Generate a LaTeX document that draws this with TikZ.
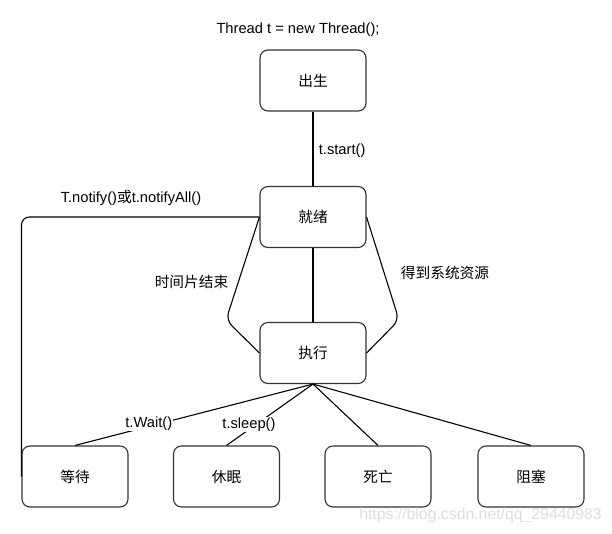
\documentclass[tikz,border=0pt]{standalone}
\usepackage{fontspec}
\setmainfont{Liberation Sans}
\newfontfamily\cjk{Noto Sans CJK SC}

\begin{document}
\begin{tikzpicture}[x=1pt, y=-1pt, line width=1.1pt,
                    font=\fontsize{14.7pt}{17pt}\selectfont,
                    state/.style={draw=black!80, rounded corners=8pt, minimum width=106pt, minimum height=61pt, font=\fontsize{14.7pt}{17pt}\selectfont\cjk},
                    tag/.style={fill=white, inner sep=1pt}]
  \useasboundingbox (0,0) rectangle (612,533);
  \node at (298,30) {Thread t = new Thread();};
  \node[state] (chusheng) at (313,80.5) {出生};
  \node[state] (jiuxu) at (313,217) {就绪};
  \node[state] (zhixing) at (313,353) {执行};
  \node[state] (dengdai) at (75,476.5) {等待};
  \node[state] (xiumian) at (226.5,476.5) {休眠};
  \node[state] (siwang) at (378,476.5) {死亡};
  \node[state] (zusai) at (531,476.5) {阻塞};

  \draw (chusheng) -- node[right, xshift=2pt, yshift=-2pt] {t.start()} (jiuxu);
  \draw (jiuxu) -- (zhixing);
  \draw[rounded corners=8pt] (jiuxu.west) -- (226,320) -- (zhixing.west);
  \draw[rounded corners=8pt] (jiuxu.east) -- (399,320) -- (zhixing.east);
  \draw[rounded corners=8pt] (jiuxu.west) -| (dengdai.west);
  \node at (131,198) {T.notify(){\cjk 或}t.notifyAll()};
  \node[font=\fontsize{14.7pt}{17pt}\selectfont\cjk] (pianjie) at (191.5,282) {时间片结束};
  \node[font=\fontsize{14.7pt}{17pt}\selectfont\cjk] (ziyuan) at (445,272.5) {得到系统资源};

  \draw (zhixing.south) -- node[tag, pos=0.69, yshift=3pt] {t.Wait()} (dengdai.north);
  \draw (zhixing.south) -- node[tag, pos=0.74, yshift=5pt] {t.sleep()} (xiumian.north);
  \draw (zhixing.south) -- (siwang.north);
  \draw (zhixing.south) -- (zusai.north);

  \node[text=black!13, font=\fontsize{15.8pt}{18pt}\selectfont] at (480.5,515) {https://blog.csdn.net/qq\_29440983};
\end{tikzpicture}
\end{document}
